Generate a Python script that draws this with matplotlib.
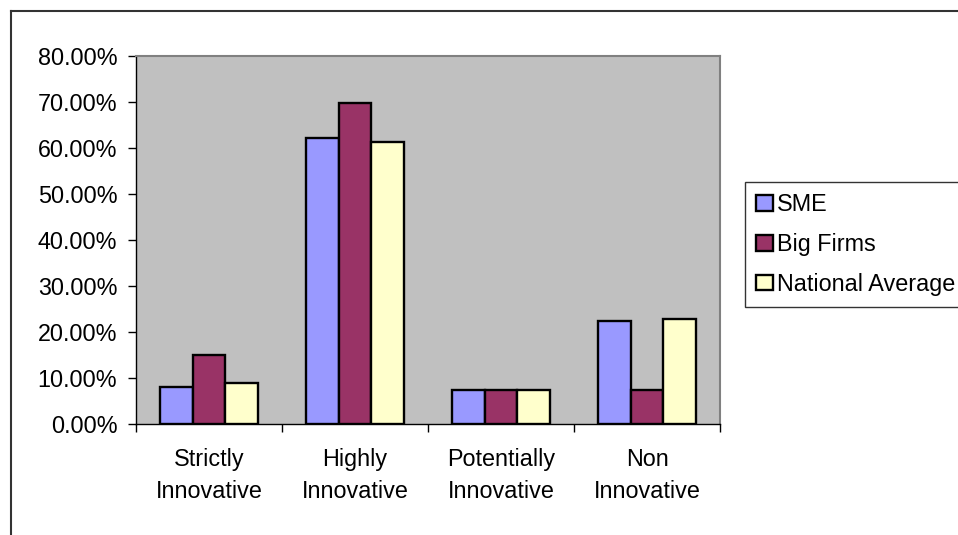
import numpy as np
import matplotlib
matplotlib.use("Agg")
import matplotlib.pyplot as plt
from matplotlib.lines import Line2D
from matplotlib.ticker import FuncFormatter

plt.rcParams['font.family'] = ['Liberation Sans', 'DejaVu Sans']

categories = ["Strictly\nInnovative", "Highly\nInnovative",
              "Potentially\nInnovative", "Non\nInnovative"]
sme = [8.0, 62.2, 7.4, 22.5]
big_firms = [15.0, 69.8, 7.4, 7.4]
national_avg = [8.9, 61.4, 7.4, 22.9]

series = [("SME", sme, "#9999FF"),
          ("Big Firms", big_firms, "#993366"),
          ("National Average", national_avg, "#FFFFCC")]

FS = 16.8

fig = plt.figure(figsize=(9.58, 5.35), dpi=100)
W, H = 958, 535
# plot area in pixels: left 136, right 720, top 56, bottom 424
ax = fig.add_axes([136 / W, 1 - 424 / H, (720 - 136) / W, (424 - 56) / H])
ax.set_facecolor("#C0C0C0")

x = np.arange(len(categories))
width = 0.226
handles = []
for i, (name, vals, color) in enumerate(series):
    bars = ax.bar(x + (i - 1) * width, vals, width, color=color,
                  edgecolor="black", linewidth=1.7, label=name, zorder=3)
    handles.append(bars)

ax.set_xlim(-0.5, len(categories) - 0.5)
ax.set_ylim(0, 80)
ax.set_yticks(np.arange(0, 81, 10))
ax.yaxis.set_major_formatter(FuncFormatter(lambda v, p: "%.2f%%" % v))

ax.set_xticks(np.arange(-0.5, len(categories), 1.0))
ax.set_xticklabels([])
ax.set_xticks(x, minor=True)
ax.set_xticklabels(categories, minor=True, fontsize=FS, linespacing=1.5)
ax.tick_params(axis="x", which="minor", length=0, pad=17.5)
ax.tick_params(axis="x", which="major", length=6, width=1, direction="out")
ax.tick_params(axis="y", length=6, width=1, direction="out", labelsize=FS, pad=7.5)

for side in ["top", "right"]:
    ax.spines[side].set_color("#808080")
    ax.spines[side].set_linewidth(1.5)
for side in ["left", "bottom"]:
    ax.spines[side].set_color("black")
    ax.spines[side].set_linewidth(1)

leg = fig.legend(handles=handles, loc="upper left",
                 bbox_to_anchor=(745 / W, 1 - 182 / H),
                 fontsize=FS, frameon=True, fancybox=False, shadow=False,
                 handlelength=0.7, handleheight=0.65, handletextpad=0.2,
                 labelspacing=0.72, borderpad=0.48, borderaxespad=0)
leg.get_frame().set_edgecolor("black")
leg.get_frame().set_linewidth(1)

# chart border on left and top
fig.add_artist(Line2D([10.5 / W, 10.5 / W], [0, 1 - 10.5 / H], color="#333333", lw=1.5))
fig.add_artist(Line2D([10.5 / W, 1], [1 - 10.5 / H, 1 - 10.5 / H], color="#333333", lw=1.5))

fig.savefig("out.png", dpi=100)
